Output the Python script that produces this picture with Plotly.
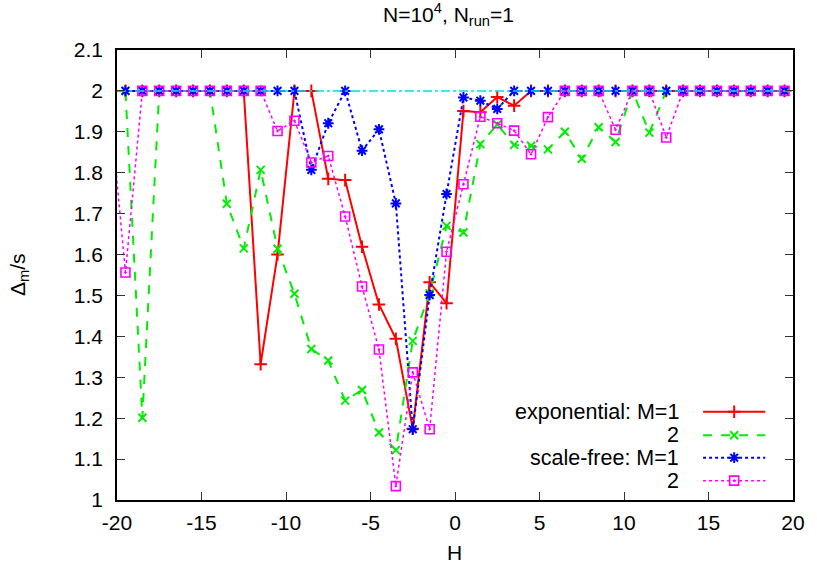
import plotly.graph_objects as go

# Field values H (bin centres); the first bin lies just left of the plotted range
H = [-20.5, -19.5, -18.5, -17.5, -16.5, -15.5, -14.5, -13.5, -12.5, -11.5, -10.5,
     -9.5, -8.5, -7.5, -6.5, -5.5, -4.5, -3.5, -2.5, -1.5, -0.5,
     0.5, 1.5, 2.5, 3.5, 4.5, 5.5, 6.5, 7.5, 8.5, 9.5,
     10.5, 11.5, 12.5, 13.5, 14.5, 15.5, 16.5, 17.5, 18.5, 19.5]

exp_m1 = [2, 2, 2, 2, 2, 2, 2, 2, 2, 1.332, 1.600,
          2, 2, 1.785, 1.782, 1.619, 1.478, 1.394, 1.174, 1.532, 1.481,
          1.951, 1.948, 1.985, 1.964, 2, 2, 2, 2, 2, 2,
          2, 2, 2, 2, 2, 2, 2, 2, 2, 2]

exp_m2 = [2, 2, 1.201, 2, 2, 2, 2, 1.724, 1.615, 1.807, 1.614,
          1.504, 1.369, 1.341, 1.243, 1.269, 1.165, 1.122, 1.389, 1.505, 1.670,
          1.654, 1.870, 1.918, 1.868, 1.866, 1.857, 1.900, 1.834, 1.911, 1.875,
          2, 1.898, 2, 2, 2, 2, 2, 2, 2, 2]

sf_m1 = [2, 2, 2, 2, 2, 2, 2, 2, 2, 2, 2,
         2, 1.807, 1.921, 2, 1.854, 1.906, 1.725, 1.173, 1.501, 1.748,
         1.984, 1.976, 1.956, 2, 2, 2, 2, 2, 2, 2,
         2, 2, 2, 2, 2, 2, 2, 2, 2, 2]

sf_m2 = [2, 1.556, 2, 2, 2, 2, 2, 2, 2, 2, 1.902,
         1.927, 1.825, 1.841, 1.693, 1.522, 1.368, 1.034, 1.312, 1.173, 1.607,
         1.772, 1.937, 1.921, 1.903, 1.845, 1.936, 2, 2, 2, 1.905,
         2, 2, 1.886, 2, 2, 2, 2, 2, 2, 2]

ref_x = [-20, 20]
ref_y = [2, 2]

series_names = ["exponential: M=1", "2", "scale-free: M=1", "2"]

x_ticks = [-20, -15, -10, -5, 0, 5, 10, 15, 20]
x_tick_labels = ["-20", "-15", "-10", "-5", "0", "5", "10", "15", "20"]
y_ticks = [1, 1.1, 1.2, 1.3, 1.4, 1.5, 1.6, 1.7, 1.8, 1.9, 2, 2.1]
y_tick_labels = ["1", "1.1", "1.2", "1.3", "1.4", "1.5", "1.6", "1.7", "1.8", "1.9", "2", "2.1"]

FONT = "Liberation Sans, Arial, sans-serif"
FS = 21

styles = [
    dict(color="#ff0000", dash="solid", width=2, symbol="cross-thin-open", size=9, lw=2),
    dict(color="#00ee00", dash="dash", width=2, symbol="x-thin-open", size=8, lw=2),
    dict(color="#0000ff", dash="dot", width=2, symbol="asterisk-open", size=9, lw=2),
    dict(color="#ff00ff", dash="dot", width=1.5, symbol="square-open-dot", size=9, lw=1.6),
]

fig = go.Figure()

for ys, st in zip([exp_m1, exp_m2, sf_m1, sf_m2], styles):
    fig.add_trace(go.Scatter(
        x=H, y=ys, mode="lines+markers", showlegend=False,
        line=dict(color=st["color"], dash=st["dash"], width=st["width"]),
        marker=dict(symbol=st["symbol"], size=st["size"], color=st["color"],
                    line=dict(color=st["color"], width=st["lw"])),
    ))

# Reference level at 2
fig.add_trace(go.Scatter(
    x=ref_x, y=ref_y, mode="lines", showlegend=False,
    line=dict(color="#00e0e0", dash="dashdot", width=1.5),
))

# Key drawn on an overlay axis spanning the plot area in [0,1] units
key_rows = [0.196, 0.144, 0.094, 0.043]
key_x0, key_x1, key_xm = 0.867, 0.959, 0.913
key_text_x = 0.834
for name, st, ky in zip(series_names, styles, key_rows):
    fig.add_trace(go.Scatter(
        x=[key_x0, key_x1], y=[ky, ky], mode="lines", showlegend=False,
        xaxis="x2", yaxis="y2",
        line=dict(color=st["color"], dash=st["dash"], width=st["width"]),
    ))
    fig.add_trace(go.Scatter(
        x=[key_xm], y=[ky], mode="markers", showlegend=False,
        xaxis="x2", yaxis="y2",
        marker=dict(symbol=st["symbol"], size=st["size"], color=st["color"],
                    line=dict(color=st["color"], width=st["lw"])),
    ))
    fig.add_annotation(
        x=key_text_x, y=ky, xref="x2", yref="y2", text=name, showarrow=False,
        xanchor="right", yanchor="middle", font=dict(family=FONT, size=FS + 0.5, color="#000"),
    )

axis_common = dict(
    showline=True, mirror="ticks", linecolor="#000", linewidth=1.5,
    ticks="inside", ticklen=8, tickwidth=1, tickcolor="#333",
    showgrid=False, zeroline=False,
    tickfont=dict(family=FONT, size=FS, color="#000"),
)

fig.update_layout(
    width=817, height=571,
    margin=dict(l=116.5, r=18.5, t=50, b=71),
    paper_bgcolor="white", plot_bgcolor="white",
    showlegend=False,
    xaxis=dict(range=[-20, 20], tickvals=x_ticks, ticktext=x_tick_labels,
               ticklabelstandoff=3, **axis_common),
    yaxis=dict(range=[1, 2.1], tickvals=y_ticks, ticktext=y_tick_labels,
               ticklabelstandoff=8, **axis_common),
    xaxis2=dict(range=[0, 1], overlaying="x", visible=False, fixedrange=True),
    yaxis2=dict(range=[0, 1], overlaying="y", visible=False, fixedrange=True),
    font=dict(family=FONT, size=FS, color="#000"),
)

# Title and axis labels
fig.add_annotation(
    x=0.49, y=1.0, xref="paper", yref="paper", yshift=36,
    text="N=10<sup>4</sup>, N<sub>run</sub>=1", showarrow=False,
    xanchor="center", yanchor="middle", font=dict(family=FONT, size=FS, color="#000"),
)
fig.add_annotation(
    x=0.499, y=0, xref="paper", yref="paper", yshift=-52,
    text="H", showarrow=False, xanchor="center", yanchor="middle",
    font=dict(family=FONT, size=FS, color="#000"),
)
fig.add_annotation(
    x=0, y=0.5, xref="paper", yref="paper", xshift=-98,
    text="Δ<sub>m</sub>/s", showarrow=False, textangle=-90,
    xanchor="center", yanchor="middle",
    font=dict(family=FONT, size=FS, color="#000"),
)

fig.write_html("out.html")
